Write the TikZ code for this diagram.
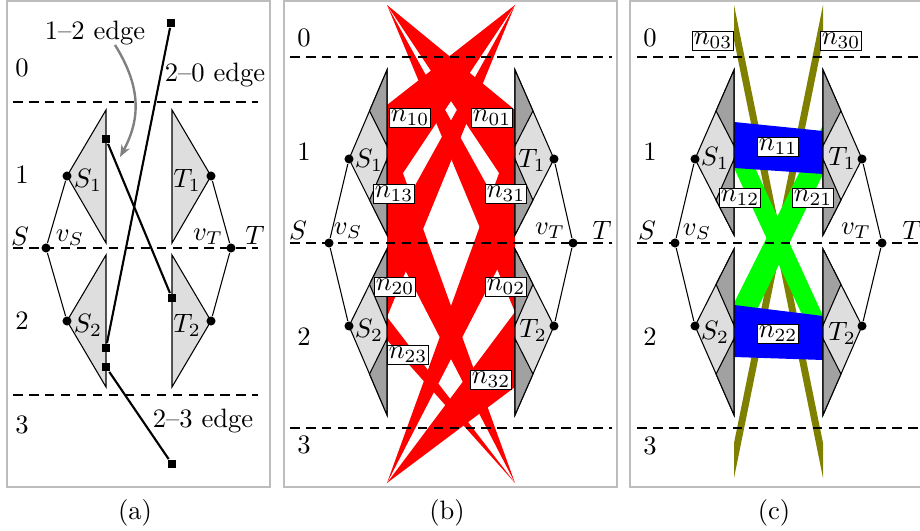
\documentclass[tikz,border=0pt]{standalone}
\usepackage{amsmath}
\usepackage{tikz}
\usetikzlibrary{calc,arrows.meta}
\definecolor{gadlight}{gray}{0.87}
\definecolor{gaddark}{gray}{0.63}
\definecolor{framegray}{gray}{0.74}
\definecolor{edgeolive}{rgb}{0.5,0.5,0}

\tikzset{
  layerline/.style={dash pattern=on 3.6pt off 2.4pt, line width=0.4pt},
  panelbox/.style={draw=framegray, line width=0.6pt},
  vdot/.style={circle, fill=black, inner sep=0pt, minimum size=3.4pt},
  endsq/.style={rectangle, fill=black, inner sep=0pt, minimum size=3.3pt},
  nlab/.style={draw, fill=white, inner sep=0.6pt, line width=0.4pt},
  edgeline/.style={line width=0.8pt},
}

% gadget: flat side from #1 to #2, tip at #3
\newcommand{\gadget}[3]{%
  \draw[fill=gadlight] (#1) -- (#2) -- (#3) -- cycle;
  \draw[fill=gaddark] (#1) -- ($(#1)!0.46!(#3)$) -- ($(#1)!0.46!(#2)$) -- cycle;
  \draw[fill=gaddark] (#2) -- ($(#2)!0.46!(#3)$) -- ($(#2)!0.46!(#1)$) -- cycle;
}

\begin{document}
\begin{tikzpicture}[x=0.376pt, y=-0.376pt]
  \clip (0,0) rectangle (920,531);
  \useasboundingbox (0,0) rectangle (920,531);

  %%%%% (a)
  \draw[panelbox] (7,1) rectangle (270,487);
  \foreach \y in {102,248,395} \draw[layerline] (13,\y) -- (258,\y);
  \foreach \y/\t in {68/0,175/1,321/2,425/3} \node at (22,\y) {$\t$};
  % Gadgets
  \draw[fill=gadlight] (106,110) -- (106,243) -- (67,176) -- cycle;
  \draw[fill=gadlight] (172,110) -- (172,243) -- (211,176) -- cycle;
  \draw[fill=gadlight] (106,255) -- (106,387) -- (67,321) -- cycle;
  \draw[fill=gadlight] (172,255) -- (172,387) -- (211,321) -- cycle;
  \node[vdot] (a-vs) at (46,248) {};
  \node[vdot] (a-vt) at (231,248) {};
  \node[vdot] (a-s1) at (67,176) {};
  \node[vdot] (a-s2) at (67,321) {};
  \node[vdot] (a-t1) at (211,176) {};
  \node[vdot] (a-t2) at (211,321) {};
  \draw (a-vs) -- (a-s1);
  \draw (a-vs) -- (a-s2);
  \draw (a-vt) -- (a-t1);
  \draw (a-vt) -- (a-t2);
  % Labels
  \node at (20,236) {$S$};
  \node at (255,235) {$T$};
  \node at (70,238) {$v_S$};
  \node at (208,237) {$v_T$};
  \node at (88,180) {$S_1$};
  \node at (187,180) {$T_1$};
  \node at (88,325) {$S_2$};
  \node at (187,325) {$T_2$};
  % Edges
  \node[endsq] (a-e20a) at (171,23) {};
  \node[endsq] (a-e20b) at (106,348) {};
  \node[endsq] (a-e12a) at (106,139) {};
  \node[endsq] (a-e12b) at (172,298) {};
  \node[endsq] (a-e23a) at (106,367) {};
  \node[endsq] (a-e23b) at (172,464) {};
  \draw[edgeline] (a-e20a) -- (a-e20b);
  \draw[edgeline] (a-e12a) -- (a-e12b);
  \draw[edgeline] (a-e23a) -- (a-e23b);
  \node (a-lab12) at (95,33) {1--2 edge};
  \node (a-lab20) at (215,75) {2--0 edge};
  \node (a-lab23) at (203,421) {2--3 edge};
  \coordinate (a-arrfrom) at (115,45);
  \coordinate (a-arrto) at (120,157);
  \draw[-{Stealth[length=4.5pt,width=3.5pt]}, black!50, line width=0.9pt]
    (a-arrfrom) .. controls (142,88) and (140,120) .. (a-arrto);
  \node at (135,513) {(a)};

  %%%%% (b)
  \draw[panelbox] (284,1) rectangle (617,487);
  \coordinate (b-tl) at (387,5);
  \coordinate (b-tr) at (515,5);
  \coordinate (b-bl) at (387,483);
  \coordinate (b-br) at (515,483);
  % Red wedges
  \fill[red] (387,105) -- (b-tr) -- (387,197) -- cycle; % n10
  \fill[red] (387,129) -- (b-br) -- (387,235) -- cycle; % n13
  \fill[red] (387,236) -- (b-tr) -- (387,317) -- cycle; % n20
  \fill[red] (387,317) -- (b-br) -- (387,340) -- cycle; % n23
  \fill[red] (515,110) -- (b-tl) -- (515,197) -- cycle; % n01
  \fill[red] (515,129) -- (b-bl) -- (515,235) -- cycle; % n31
  \fill[red] (515,236) -- (b-tl) -- (515,312) -- cycle; % n02
  \fill[red] (515,312) -- (b-bl) -- (515,387) -- cycle; % n32
  % Gadgets
  \gadget{387,70}{387,235}{349,159}
  \gadget{515,70}{515,235}{554,159}
  \gadget{387,249}{387,415}{349,326}
  \gadget{515,249}{515,415}{554,326}
  \foreach \y in {57,243,428} \draw[layerline] (290,\y) -- (612,\y);
  \foreach \y/\t in {38/0,152/1,337/2,445/3} \node at (304,\y) {$\t$};
  \node[vdot] (b-vs) at (329,243) {};
  \node[vdot] (b-vt) at (573,243) {};
  \node[vdot] (b-s1) at (349,159) {};
  \node[vdot] (b-s2) at (349,326) {};
  \node[vdot] (b-t1) at (554,159) {};
  \node[vdot] (b-t2) at (554,326) {};
  \draw (b-vs) -- (b-s1);
  \draw (b-vs) -- (b-s2);
  \draw (b-vt) -- (b-t1);
  \draw (b-vt) -- (b-t2);
  \node at (298,230) {$S$};
  \node at (602,230) {$T$};
  \node at (348,231) {$v_S$};
  \node at (550,231) {$v_T$};
  \node at (369,160) {$S_1$};
  \node at (532,160) {$T_1$};
  \node at (369,330) {$S_2$};
  \node at (533,330) {$T_2$};
  \node[nlab] (b-n10) at (410,118) {$n_{10}$};
  \node[nlab] (b-n01) at (492,118) {$n_{01}$};
  \node[nlab] (b-n13) at (394,194) {$n_{13}$};
  \node[nlab] (b-n31) at (506,194) {$n_{31}$};
  \node[nlab] (b-n20) at (395,287) {$n_{20}$};
  \node[nlab] (b-n02) at (506,287) {$n_{02}$};
  \node[nlab] (b-n23) at (408,355) {$n_{23}$};
  \node[nlab] (b-n32) at (491,380) {$n_{32}$};
  \node at (447,513) {(b)};

  %%%%% (c)
  \draw[panelbox] (630,1) rectangle (927,487);
  % Olive, green, blue bands
  \fill[edgeolive] (734,5) -- (823,443) -- (823,478) -- (734,40) -- cycle; % n03
  \fill[edgeolive] (823,5) -- (734,443) -- (734,478) -- (823,40) -- cycle; % n30
  \fill[green] (734,122) -- (823,316) -- (823,360) -- (734,168) -- cycle; % n12
  \fill[green] (823,125) -- (734,303) -- (734,357) -- (823,174) -- cycle; % n21
  \fill[blue] (734,122) -- (823,131) -- (823,174) -- (734,168) -- cycle; % n11
  \fill[blue] (734,305) -- (823,316) -- (823,360) -- (734,357) -- cycle; % n22
  % Gadgets
  \gadget{734,70}{734,235}{695,159}
  \gadget{823,70}{823,235}{862,159}
  \gadget{734,249}{734,415}{695,326}
  \gadget{823,249}{823,415}{862,326}
  \foreach \y in {57,243,428} \draw[layerline] (637,\y) -- (925,\y);
  \foreach \y/\t in {38/0,152/1,337/2,446/3} \node at (650,\y) {$\t$};
  \node[vdot] (c-vs) at (675,243) {};
  \node[vdot] (c-vt) at (882,243) {};
  \node[vdot] (c-s1) at (695,159) {};
  \node[vdot] (c-s2) at (695,326) {};
  \node[vdot] (c-t1) at (862,159) {};
  \node[vdot] (c-t2) at (862,326) {};
  \draw (c-vs) -- (c-s1);
  \draw (c-vs) -- (c-s2);
  \draw (c-vt) -- (c-t1);
  \draw (c-vt) -- (c-t2);
  \node at (647,230) {$S$};
  \node at (912,230) {$T$};
  \node at (697,232) {$v_S$};
  \node at (856,231) {$v_T$};
  \node at (715,158) {$S_1$};
  \node at (842,158) {$T_1$};
  \node at (715,332) {$S_2$};
  \node at (842,333) {$T_2$};
  \node[nlab] (c-n03) at (713,41) {$n_{03}$};
  \node[nlab] (c-n30) at (841,41) {$n_{30}$};
  \node[nlab] (c-n11) at (778,147) {$n_{11}$};
  \node[nlab] (c-n12) at (740,198) {$n_{12}$};
  \node[nlab] (c-n21) at (813,198) {$n_{21}$};
  \node[nlab] (c-n22) at (778,334) {$n_{22}$};
  \node at (774,513) {(c)};
\end{tikzpicture}
\end{document}
